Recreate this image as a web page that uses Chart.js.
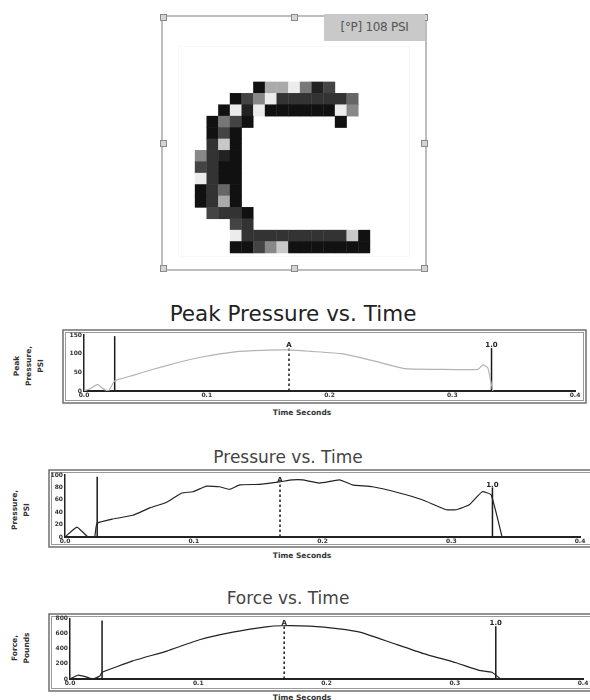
<!DOCTYPE html>
<html><head><meta charset="utf-8">
<script src="https://cdn.jsdelivr.net/npm/chart.js@4/dist/chart.umd.min.js"></script>
<style>
body{margin:0;width:590px;height:700px;position:relative;background:#fff;font-family:"DejaVu Sans",sans-serif;overflow:hidden}
canvas{position:absolute}
.t{position:absolute;white-space:nowrap;transform:translate(-50%,-50%)}
.rot{position:absolute;white-space:nowrap;transform:translate(-50%,-50%) rotate(-90deg);text-align:center;font-size:7.5px;font-weight:bold;line-height:12px;color:#333}
.xt{position:absolute;white-space:nowrap;transform:translate(-50%,-50%);font-size:7.5px;font-weight:bold;color:#333}
#psi{position:absolute;left:324px;top:14px;width:101px;height:27px;background:#c9c9c9;color:#555;font-size:12px;line-height:27px;text-align:center;letter-spacing:-0.3px}
</style></head><body>
<canvas id="heat" width="268" height="258" style="left:160px;top:14px"></canvas>
<div id="psi">[°P] 108 PSI</div>

<div class="t" style="left:293px;top:313px;font-size:21.5px;color:#222">Peak Pressure vs. Time</div>
<canvas id="p1" width="525" height="75" style="left:62px;top:329px"></canvas>
<div class="rot" style="left:29px;top:366px">Peak<br>Pressure,<br>PSI</div>
<div class="xt" style="left:302px;top:412px">Time Seconds</div>

<div class="t" style="left:288px;top:457px;font-size:17px;color:#444">Pressure vs. Time</div>
<canvas id="p2" width="546" height="79" style="left:48px;top:469px"></canvas>
<div class="rot" style="left:21px;top:510px">Pressure,<br>PSI</div>
<div class="xt" style="left:302px;top:555px">Time Seconds</div>

<div class="t" style="left:288px;top:598px;font-size:17px;color:#444">Force vs. Time</div>
<canvas id="p3" width="546" height="79" style="left:48px;top:613px"></canvas>
<div class="rot" style="left:21px;top:648px">Force,<br>Pounds</div>
<div class="xt" style="left:302px;top:697px">Time Seconds</div>

<script>
// ---------- DATA ----------
// pressure map: each char = shade code (0 darkest .. 9 lightest), '.' = empty
const heatRows = [
  ".....0779513...",
  "...03692222224.",
  "..091900000096.",
  ".0530.......0..",
  ".030...........",
  ".280...........",
  "6210...........",
  "3200...........",
  "9200...........",
  "0240...........",
  "0270...........",
  ".3220..........",
  "...32..........",
  "...922222222280",
  "...003680000000"
];
const shadePalette = ["#111111","#222222","#333333","#444444","#666666","#777777","#888888","#aaaaaa","#c8c8c8","#ececec"];

const timeTicks = [0, 0.1, 0.2, 0.3, 0.4];
const timeTickLabels = ["0.0", "0.1", "0.2", "0.3", "0.4"];

const markerTimes = [0.025, 0.167, 0.332];
const markerLabels = ["", "A", "1.0"];
const markerDashed = [false, true, false];

const peakTimes = [0, 0.005, 0.011, 0.016, 0.02, 0.025, 0.04, 0.055, 0.075, 0.096, 0.123, 0.145, 0.167, 0.185, 0.21, 0.237, 0.261, 0.29, 0.321, 0.325, 0.329, 0.333];
const peakValues = [0, 6, 18, 5, 0, 27, 42, 57, 75, 91, 105, 109, 110, 106, 100, 80, 60, 58, 58, 70, 62, 0];
const peakTicks = [0, 50, 100, 150];
const peakMarkerTops = [147, 115, 115];

const pressTimes = [0, 0.0093, 0.0178, 0.023, 0.0248, 0.0372, 0.0527, 0.0659, 0.079, 0.0907, 0.0992, 0.110, 0.120, 0.128, 0.1357, 0.151, 0.1667, 0.1767, 0.1845, 0.1977, 0.2132, 0.2233, 0.2388, 0.2597, 0.2775, 0.2961, 0.3039, 0.314, 0.324, 0.331, 0.3395];
const pressValues = [0, 16, 0, 0, 22, 29, 35, 47, 56, 71, 73, 82, 81, 77, 84, 85, 89, 92, 92, 87, 92, 84, 81, 71, 60, 44, 44, 52, 73, 68, 0];
const pressTicks = [0, 20, 40, 60, 80, 100];
const pressMarkerTops = [97, 88, 80];

const forceTimes = [0, 0.0062, 0.0132, 0.018, 0.0233, 0.025, 0.049, 0.0755, 0.101, 0.127, 0.153, 0.165, 0.187, 0.21, 0.226, 0.249, 0.275, 0.301, 0.319, 0.329, 0.335];
const forceValues = [0, 50, 25, 0, 40, 89, 240, 370, 520, 620, 690, 705, 700, 665, 620, 490, 340, 215, 115, 90, 10];
const forceTicks = [0, 200, 400, 600, 800];
const forceMarkerTops = [775, 700, 700];

// ---------- HEATMAP ----------
const heatPoints = [];
heatRows.forEach((row, r) => [...row].forEach((ch, c) => {
  if (ch !== '.') heatPoints.push({x: c, y: r, s: +ch});
}));

const handlesPlugin = {
  id: 'handles',
  afterDraw(chart) {
    const c = chart.ctx, w = chart.width, h = chart.height;
    c.save();
    c.strokeStyle = '#bdbdbd'; c.lineWidth = 2;
    c.strokeRect(2, 2, w - 4, h - 4);
    c.strokeStyle = '#f8f8f8'; c.lineWidth = 1;
    c.strokeRect(18.5, 32.5, w - 37, h - 48);
    const pts = [[0,0],[w/2,0],[w,0],[0,h/2],[w,h/2],[0,h],[w/2,h],[w,h]];
    c.fillStyle = '#d4d4d4'; c.strokeStyle = '#8a8a8a';
    pts.forEach(([x,y]) => {
      const px = Math.min(Math.max(x - 3, 0), w - 7), py = Math.min(Math.max(y - 3, 0), h - 7);
      c.fillRect(px, py, 7, 7); c.strokeRect(px + 0.5, py + 0.5, 6, 6);
    });
    c.restore();
  }
};

new Chart(document.getElementById('heat'), {
  type: 'scatter',
  data: { datasets: [{
    data: heatPoints,
    pointStyle: 'rect',
    borderWidth: 0,
    pointRadius: (ctx) => {
      const sx = ctx.chart.scales.x;
      if (!sx) return 8;
      return Math.abs(sx.getPixelForValue(1) - sx.getPixelForValue(0)) / Math.SQRT2 + 0.25;
    },
    backgroundColor: (ctx) => ctx.raw ? shadePalette[ctx.raw.s] : '#000'
  }]},
  options: {
    responsive: false, animation: false,
    layout: { padding: 0 },
    plugins: { legend: {display: false}, tooltip: {enabled: false} },
    scales: {
      x: { display: false, min: -3.5, max: 19.47 },
      y: { display: false, reverse: true, min: -6.46, max: 16.17 }
    }
  },
  plugins: [handlesPlugin]
});

// ---------- LINE PANELS ----------
const framePlugin = {
  id: 'frame',
  beforeDraw(chart) {
    const c = chart.ctx, w = chart.width, h = chart.height;
    c.save();
    c.strokeStyle = '#6f6f6f'; c.lineWidth = 1.5;
    c.strokeRect(1, 1, w - 2, h - 2);
    c.strokeStyle = '#9a9a9a'; c.lineWidth = 1;
    c.strokeRect(3.5, 3.5, w - 7, h - 7);
    c.restore();
  },
  afterDatasetsDraw(chart) {
    const c = chart.ctx;
    c.save();
    c.font = 'bold 7px "DejaVu Sans"';
    c.fillStyle = '#222'; c.textAlign = 'center'; c.textBaseline = 'bottom';
    chart.data.datasets.forEach((ds, i) => {
      if (!ds.markerLabel) return;
      const pt = chart.getDatasetMeta(i).data[1];
      c.fillText(ds.markerLabel, pt.x, pt.y + 1);
    });
    c.restore();
  }
};

function makePanel(id, times, values, yTicks, markerTops, style) {
  const datasets = [{
    data: times.map((t, i) => ({x: t, y: values[i]})),
    borderColor: style.lineColor, borderWidth: style.lineWidth,
    pointRadius: 0, tension: 0.12, fill: false
  }];
  markerTimes.forEach((t, i) => {
    datasets.push({
      data: [{x: t, y: 0}, {x: t, y: markerTops[i]}],
      borderColor: '#1a1a1a', borderWidth: 1.5,
      borderDash: markerDashed[i] ? [2.5, 2.5] : [],
      pointRadius: 0, markerLabel: markerLabels[i]
    });
  });
  new Chart(document.getElementById(id), {
    type: 'line',
    data: { datasets },
    options: {
      responsive: false, animation: false,
      layout: { padding: { top: style.topPad, right: style.rightPad, left: 0, bottom: 0 } },
      plugins: { legend: {display: false}, tooltip: {enabled: false} },
      scales: {
        x: {
          type: 'linear', min: timeTicks[0], max: timeTicks[timeTicks.length - 1],
          afterBuildTicks: (s) => { s.ticks = timeTicks.map(v => ({value: v})); },
          ticks: { autoSkip: false, maxRotation: 0, padding: 1, color: '#333',
                   font: {size: 6, weight: 'bold', family: 'DejaVu Sans'},
                   callback: (v, i) => timeTickLabels[i] },
          grid: { display: false, drawTicks: false },
          border: { display: true, color: '#222', width: 2 },
          afterFit: (s) => { s.height = style.bottomSpace; }
        },
        y: {
          min: yTicks[0], max: yTicks[yTicks.length - 1],
          afterBuildTicks: (s) => { s.ticks = yTicks.map(v => ({value: v})); },
          ticks: { autoSkip: false, padding: 2, color: '#333',
                   font: {size: 6, weight: 'bold', family: 'DejaVu Sans'} },
          grid: { display: false, drawTicks: false },
          border: { display: true, color: '#222', width: 1.5 },
          afterFit: (s) => { s.width = style.leftSpace; }
        }
      }
    },
    plugins: [framePlugin]
  });
}

makePanel('p1', peakTimes, peakValues, peakTicks, peakMarkerTops,
  {lineColor: '#b3b3b3', lineWidth: 1.2, topPad: 6, rightPad: 12, leftSpace: 22, bottomSpace: 13});
makePanel('p2', pressTimes, pressValues, pressTicks, pressMarkerTops,
  {lineColor: '#222', lineWidth: 1.2, topPad: 6, rightPad: 14, leftSpace: 17, bottomSpace: 11});
makePanel('p3', forceTimes, forceValues, forceTicks, forceMarkerTops,
  {lineColor: '#222', lineWidth: 1.2, topPad: 3, rightPad: 11, leftSpace: 22, bottomSpace: 13});
</script>
</body></html>
